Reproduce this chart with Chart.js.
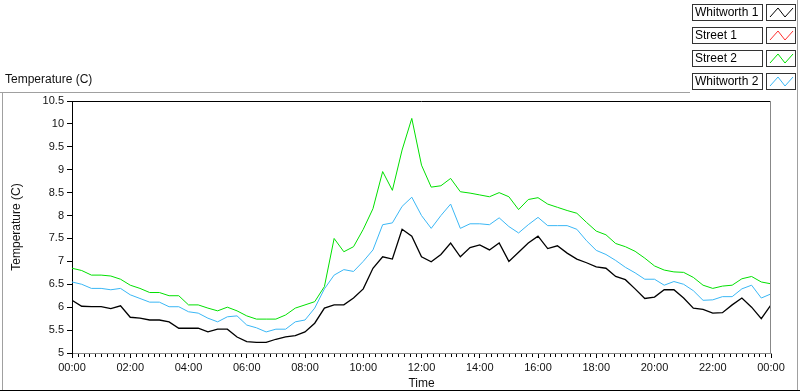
<!DOCTYPE html>
<html>
<head>
<meta charset="utf-8">
<script src="https://cdn.jsdelivr.net/npm/chart.js@4.4.0/dist/chart.umd.min.js"></script>
<style>
  html, body { margin: 0; padding: 0; background: #fff; }
  #wrap { width: 800px; height: 392px; }
</style>
</head>
<body>
<div id="wrap"><canvas id="tempChart" width="800" height="392"></canvas></div>
<script>
// time of day in minutes after midnight
const minutes = [0,20,40,60,80,100,120,140,160,180,200,220,240,260,280,300,320,340,360,380,
  400,420,440,460,480,500,520,540,560,580,600,620,640,660,680,700,720,740,760,780,
  800,820,840,860,880,900,920,940,960,980,1000,1020,1040,1060,1080,1100,1120,1140,1160,1180,
  1200,1220,1240,1260,1280,1300,1320,1340,1360,1380,1400,1420,1440];

const seriesNames = ["Whitworth 1", "Street 1", "Street 2", "Whitworth 2"];
const seriesColors = ["#000000", "#ff3030", "#00e000", "#3ab7f5"];

const whitworth1 = [6.15,6.02,6.01,6.01,5.97,6.03,5.78,5.76,5.72,5.72,
  5.68,5.54,5.54,5.54,5.46,5.52,5.52,5.35,5.25,5.23,
  5.23,5.30,5.35,5.38,5.46,5.65,5.98,6.05,6.05,6.20,
  6.40,6.85,7.10,7.05,7.70,7.55,7.10,6.99,7.15,7.40,
  7.10,7.30,7.36,7.25,7.40,7.00,7.20,7.40,7.55,7.28,
  7.34,7.18,7.05,6.97,6.88,6.85,6.67,6.60,6.40,6.19,
  6.22,6.38,6.38,6.20,5.98,5.95,5.87,5.88,6.05,6.20,
  6.00,5.75,6.05];
const street1 = [];
const street2 = [6.85,6.80,6.70,6.70,6.68,6.61,6.48,6.41,6.32,6.32,
  6.25,6.25,6.05,6.05,5.98,5.92,6.00,5.92,5.81,5.74,
  5.74,5.74,5.83,5.98,6.05,6.12,6.45,7.50,7.21,7.32,
  7.70,8.15,8.96,8.55,9.43,10.12,9.10,8.62,8.65,8.81,
  8.52,8.49,8.45,8.41,8.50,8.41,8.13,8.35,8.39,8.25,
  8.18,8.11,8.05,7.85,7.66,7.58,7.39,7.32,7.22,7.07,
  6.90,6.81,6.77,6.76,6.65,6.48,6.41,6.46,6.48,6.62,
  6.67,6.55,6.51];
const whitworth2 = [6.55,6.50,6.41,6.41,6.38,6.41,6.27,6.19,6.11,6.11,
  6.01,6.01,5.90,5.87,5.76,5.68,5.79,5.81,5.61,5.55,
  5.46,5.52,5.52,5.68,5.72,5.98,6.40,6.70,6.82,6.78,
  7.00,7.25,7.80,7.84,8.20,8.40,8.00,7.72,8.00,8.25,
  7.72,7.82,7.82,7.80,7.95,7.76,7.62,7.80,7.96,7.78,
  7.78,7.78,7.70,7.45,7.24,7.15,7.02,6.87,6.75,6.61,
  6.61,6.48,6.56,6.50,6.36,6.15,6.16,6.23,6.23,6.40,
  6.48,6.20,6.29];

const allSeries = [whitworth1, street1, street2, whitworth2];

const toPoints = (vals) => vals.map((v, i) => ({ x: minutes[i], y: v }));

const fmtTime = (m) => {
  const h = Math.floor(m / 60) % 24;
  const mm = m % 60;
  return String(h).padStart(2, "0") + ":" + String(mm).padStart(2, "0");
};

const FONT = "'Liberation Sans', Arial, sans-serif";

// frame, titles, minor ticks and the legend panel
const decorPlugin = {
  id: "decor",
  afterDraw(chart) {
    const ctx = chart.ctx;
    const area = chart.chartArea;
    const xs = chart.scales.x;
    ctx.save();

    // outer frame
    ctx.strokeStyle = "#a0a0a0";
    ctx.lineWidth = 1;
    ctx.beginPath();
    ctx.moveTo(0, 92.5); ctx.lineTo(690, 92.5);
    ctx.moveTo(2.5, 92); ctx.lineTo(2.5, 391);
    ctx.moveTo(797.5, 0); ctx.lineTo(797.5, 391);
    ctx.stroke();
    ctx.strokeStyle = "#000";
    ctx.beginPath();
    ctx.moveTo(0, 390.5); ctx.lineTo(800, 390.5);
    ctx.stroke();

    // plot box top and right edge
    ctx.beginPath();
    ctx.moveTo(area.left, area.top + 0.5); ctx.lineTo(area.right, area.top + 0.5);
    ctx.stroke();
    ctx.strokeStyle = "#888";
    ctx.beginPath();
    ctx.moveTo(area.right - 0.5, area.top); ctx.lineTo(area.right - 0.5, area.bottom);
    ctx.stroke();

    // minor x ticks every 12 min
    ctx.strokeStyle = "#000";
    ctx.beginPath();
    for (let m = 12; m < 1440; m += 12) {
      if (m % 120 === 0) continue;
      const px = Math.round(xs.getPixelForValue(m)) + 0.5;
      ctx.moveTo(px, area.bottom + 1);
      ctx.lineTo(px, area.bottom + 4);
    }
    ctx.stroke();

    // titles
    ctx.fillStyle = "#111";
    ctx.font = "12px " + FONT;
    ctx.textBaseline = "middle";
    ctx.textAlign = "left";
    ctx.fillText("Temperature (C)", 5, 80);
    ctx.textAlign = "center";
    ctx.fillText("Time", (area.left + area.right) / 2, 384);
    ctx.save();
    ctx.translate(17, (area.top + area.bottom) / 2);
    ctx.rotate(-Math.PI / 2);
    ctx.fillText("Temperature (C)", 0, 0);
    ctx.restore();

    // legend panel
    chart.data.datasets.forEach((ds, i) => {
      const top = 4 + i * 23;
      ctx.strokeStyle = "#333";
      ctx.lineWidth = 1;
      ctx.strokeRect(692.5, top + 0.5, 70, 16);
      ctx.strokeRect(766.5, top + 0.5, 29, 16);
      ctx.fillStyle = "#000";
      ctx.textAlign = "left";
      ctx.textBaseline = "middle";
      ctx.font = "12px " + FONT;
      ctx.fillText(ds.label, 695, top + 9);
      ctx.strokeStyle = ds.borderColor;
      ctx.beginPath();
      ctx.moveTo(770, top + 13);
      ctx.lineTo(778, top + 4);
      ctx.lineTo(785, top + 13);
      ctx.lineTo(793, top + 4);
      ctx.stroke();
    });

    ctx.restore();
  }
};

new Chart(document.querySelector("#tempChart"), {
  type: "line",
  data: {
    datasets: seriesNames.map((name, i) => ({
      label: name,
      data: toPoints(allSeries[i]),
      borderColor: seriesColors[i],
      backgroundColor: seriesColors[i],
      borderWidth: i === 0 ? 1.3 : 1,
      pointRadius: 0,
      tension: 0,
      fill: false,
    })),
  },
  options: {
    responsive: false,
    animation: false,
    devicePixelRatio: 1,
    layout: { padding: { top: 101, right: 29, left: 0, bottom: 0 } },
    plugins: {
      legend: { display: false },
      tooltip: { enabled: false },
    },
    scales: {
      x: {
        type: "linear",
        min: 0,
        max: 1440,
        afterFit(scale) { scale.height = 39; },
        afterBuildTicks(scale) {
          scale.ticks = [0,120,240,360,480,600,720,840,960,1080,1200,1320,1440].map(v => ({ value: v }));
        },
        ticks: {
          autoSkip: false,
          maxRotation: 0,
          padding: 3,
          color: "#111",
          font: { family: FONT, size: 11 },
          callback: (v) => fmtTime(v),
        },
        grid: { drawOnChartArea: false, tickLength: 5, color: "#000" },
        border: { color: "#888" },
      },
      y: {
        min: 5,
        max: 10.5,
        afterFit(scale) { scale.width = 72; },
        ticks: {
          stepSize: 0.5,
          padding: 3,
          color: "#111",
          font: { family: FONT, size: 11 },
          callback: (v) => String(+v),
        },
        grid: { drawOnChartArea: false, tickLength: 5, color: "#000" },
        border: { color: "#000" },
      },
    },
  },
  plugins: [decorPlugin],
});
</script>
</body>
</html>
